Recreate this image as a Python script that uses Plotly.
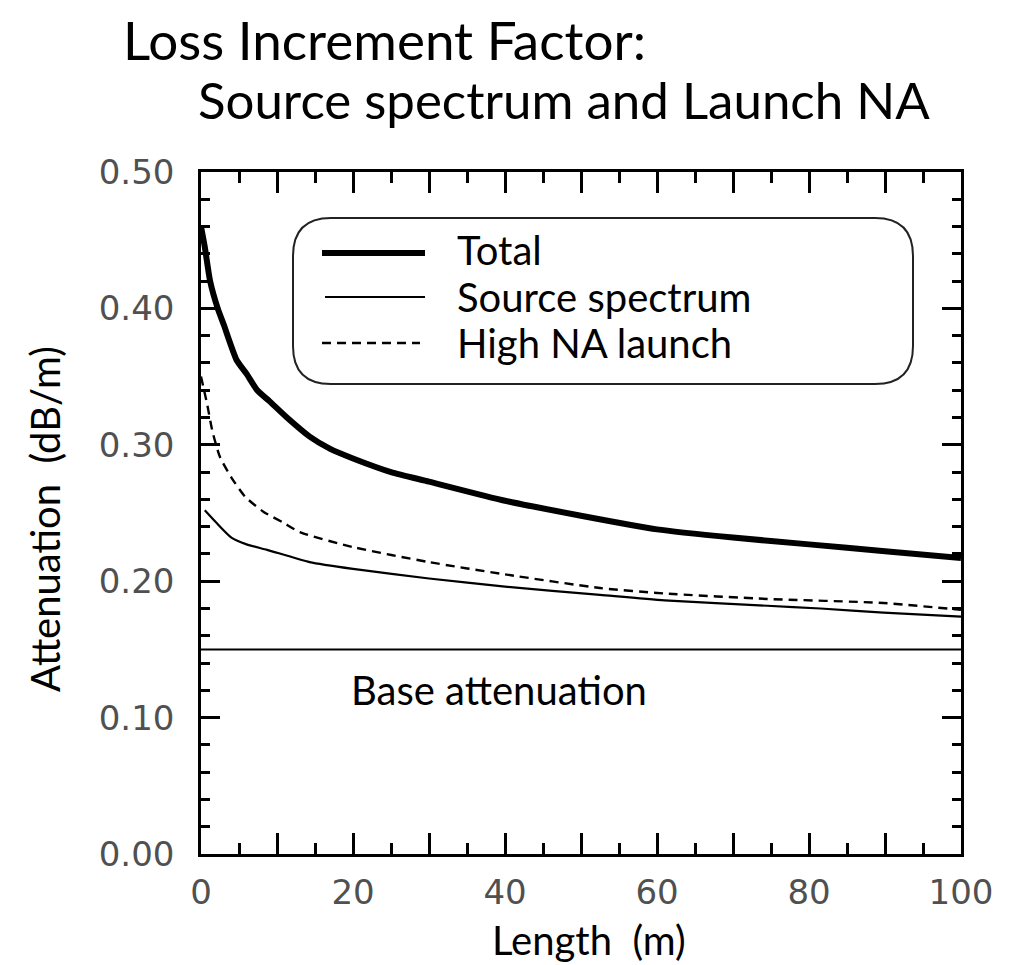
import plotly.graph_objects as go

# ---------------- data ----------------
total_x = [0, 0.5, 1.2, 2.2, 3, 4.7, 6, 7.4, 9, 11.3, 14.3, 17, 20, 25, 30, 40, 50, 60, 70,
           80, 90, 100]
total_y = [0.46, 0.445, 0.42, 0.40, 0.388, 0.362, 0.352, 0.340, 0.332, 0.320, 0.306, 0.297,
           0.290, 0.280, 0.273, 0.259, 0.248, 0.238, 0.232, 0.227, 0.222, 0.217]

source_x = [0.5, 2, 4, 6, 8.7, 14.3, 20, 30, 40, 52.5, 61, 74.5, 81.5, 89.8, 100]
source_y = [0.252, 0.243, 0.232, 0.227, 0.223, 0.214, 0.209, 0.202, 0.196, 0.190,
            0.186, 0.182, 0.180, 0.177, 0.174]

highna_x = [0, 0.8, 1.5, 2.5, 4, 5.8, 8.2, 10.8, 13, 20, 30, 40, 52.5, 61, 74.5, 89.8, 100]
highna_y = [0.35, 0.33, 0.31, 0.291, 0.276, 0.262, 0.251, 0.243, 0.236, 0.225, 0.214,
            0.205, 0.195, 0.191, 0.187, 0.184, 0.179]

base_x = [0, 100]
base_y = [0.15, 0.15]

x_major = [0, 10, 20, 30, 40, 50, 60, 70, 80, 90, 100]
x_labels = ["0", "", "20", "", "40", "", "60", "", "80", "", "100"]
y_major = [0.0, 0.1, 0.2, 0.3, 0.4, 0.5]
y_labels = ["0.00", "0.10", "0.20", "0.30", "0.40", "0.50"]

series_names = ["Total", "Source spectrum", "High NA launch"]
title_lines = ["Loss Increment Factor:", "Source spectrum and Launch NA"]

# ---------------- layout helpers ----------------
W, H = 1011, 965
L, R, T, B = 201, 50, 172, 111
PW, PH = W - L - R, H - T - B


def px(x):
    return (x - L) / PW


def py(y):
    return (H - B - y) / PH


TXT = "Lato, 'Open Sans', sans-serif"

fig = go.Figure()
fig.add_trace(go.Scatter(x=total_x, y=total_y, mode="lines", name=series_names[0],
                         line=dict(color="black", width=6, shape="spline", smoothing=0.6),
                         showlegend=False))
fig.add_trace(go.Scatter(x=source_x, y=source_y, mode="lines", name=series_names[1],
                         line=dict(color="black", width=2.2, shape="spline", smoothing=0.6),
                         showlegend=False))
fig.add_trace(go.Scatter(x=highna_x, y=highna_y, mode="lines", name=series_names[2],
                         line=dict(color="black", width=2.4, dash="9px,6px",
                                   shape="spline", smoothing=0.6),
                         showlegend=False))
fig.add_trace(go.Scatter(x=base_x, y=base_y, mode="lines", name="Base attenuation",
                         line=dict(color="black", width=2), showlegend=False))

axis_common = dict(showgrid=False, zeroline=False, showline=True, linecolor="black",
                   linewidth=2.5, mirror="ticks", ticks="inside", tickcolor="black",
                   tickwidth=2.5,
                   tickfont=dict(family="DejaVu Sans", size=34, color="#505050"))

fig.update_xaxes(range=[0, 100], tickmode="array", tickvals=x_major, ticktext=x_labels,
                 ticklen=21, minor=dict(dtick=5, ticklen=11, tickwidth=2.5, tickcolor="black",
                                        ticks="inside", showgrid=False),
                 ticklabelstandoff=6, **axis_common)
fig.update_yaxes(range=[0, 0.5], tickmode="array", tickvals=y_major, ticktext=y_labels,
                 ticklen=19, minor=dict(dtick=0.02, ticklen=9, tickwidth=2.5, tickcolor="black",
                                        ticks="inside", showgrid=False),
                 ticklabelstandoff=17, **axis_common)

shapes = []
# rounded legend box
x0, x1 = px(293), px(913)
y0, y1 = py(384), py(218)
rx, ry = 38 / PW, 38 / PH
path = (f"M {x0+rx},{y1} L {x1-rx},{y1} Q {x1},{y1} {x1},{y1-ry} "
        f"L {x1},{y0+ry} Q {x1},{y0} {x1-rx},{y0} L {x0+rx},{y0} "
        f"Q {x0},{y0} {x0},{y0+ry} L {x0},{y1-ry} Q {x0},{y1} {x0+rx},{y1} Z")
shapes.append(dict(type="path", path=path, xref="paper", yref="paper",
                   line=dict(color="#222", width=2), fillcolor="rgba(0,0,0,0)"))
# legend samples
shapes.append(dict(type="line", xref="paper", yref="paper", x0=px(322), x1=px(425),
                   y0=py(253), y1=py(253), line=dict(color="black", width=6)))
shapes.append(dict(type="line", xref="paper", yref="paper", x0=px(325), x1=px(425),
                   y0=py(297), y1=py(297), line=dict(color="black", width=2.2)))
shapes.append(dict(type="line", xref="paper", yref="paper", x0=px(322), x1=px(420),
                   y0=py(343), y1=py(343), line=dict(color="black", width=2.4, dash="9px,6px")))

annotations = []
for name, yy in zip(series_names, [250, 297, 343]):
    annotations.append(dict(text=name, xref="paper", yref="paper", x=px(455), y=py(yy),
                            xanchor="left", yanchor="middle", showarrow=False,
                            font=dict(family=TXT, size=40, color="black")))
annotations.append(dict(text="Base attenuation", xref="paper", yref="paper", x=px(499),
                        y=py(690), xanchor="center", yanchor="middle", showarrow=False,
                        font=dict(family=TXT, size=40, color="black")))
annotations.append(dict(text=title_lines[0], xref="paper", yref="paper", x=px(121),
                        y=py(40), xanchor="left", yanchor="middle", showarrow=False,
                        font=dict(family=TXT, size=53, color="black")))
annotations.append(dict(text=title_lines[1], xref="paper", yref="paper", x=px(196),
                        y=py(99), xanchor="left", yanchor="middle", showarrow=False,
                        font=dict(family=TXT, size=51, color="black")))
annotations.append(dict(text="Length  (m)", xref="paper", yref="paper", x=px(589),
                        y=py(940), xanchor="center", yanchor="middle", showarrow=False,
                        font=dict(family=TXT, size=40, color="black")))
annotations.append(dict(text="Attenuation  (dB/m)", xref="paper", yref="paper", x=px(45),
                        y=py(519), xanchor="center", yanchor="middle", showarrow=False,
                        textangle=-90, font=dict(family=TXT, size=40, color="black")))

fig.update_layout(width=W, height=H, margin=dict(l=L, r=R, t=T, b=B),
                  plot_bgcolor="white", paper_bgcolor="white",
                  shapes=shapes, annotations=annotations, showlegend=False)

fig.write_html("out.html")
